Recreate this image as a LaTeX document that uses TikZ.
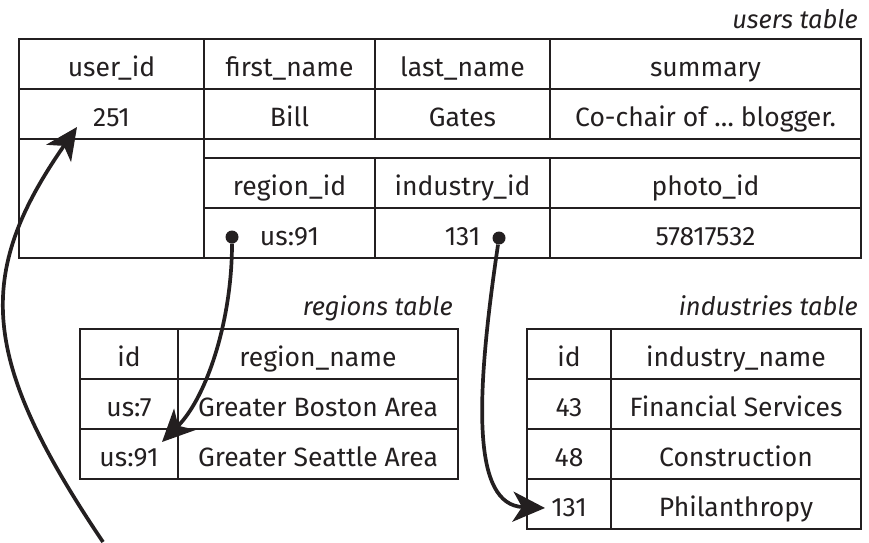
\documentclass[tikz,border=0pt]{standalone}
\usepackage{fontspec}
\setmainfont{Fira Sans}
\usepackage{tikz}
\usetikzlibrary{positioning,calc,arrows.meta}
\definecolor{ink}{RGB}{35,31,32}

\begin{document}
\begin{tikzpicture}[
    x=1pt, y=-1pt,
    node distance=0pt,
    cell/.style={draw=ink, line width=1.6pt, inner sep=0pt, outer sep=0pt, minimum height=50pt,
        text height=24pt, text depth=0pt, text=ink, font=\fontsize{26.5}{31}\selectfont},
    tablabel/.style={anchor=base east, inner sep=0pt, text=ink, font=\fontsize{25.5}{30}\selectfont\itshape},
    fkdot/.style={circle, fill=ink, inner sep=0pt, minimum size=13pt},
    fkarrow/.style={-{Stealth[length=32pt, width=30pt, inset=9pt]}, line width=3.7pt, draw=ink}
]
    \useasboundingbox (0,0) rectangle (869,542);

    % Users table
    \node[cell, minimum width=185pt, anchor=north west] (uid) at (19,39) {user\_id};
    \node[cell, minimum width=171pt, right=of uid] (fname) {first\_name};
    \node[cell, minimum width=175pt, right=of fname] (lname) {last\_name};
    \node[cell, minimum width=311pt, right=of lname] (summary) {summary};
    \node[cell, minimum width=185pt, below=of uid] (uidval) {251};
    \node[cell, minimum width=171pt, below=of fname] (fnameval) {Bill};
    \node[cell, minimum width=175pt, below=of lname] (lnameval) {Gates};
    \node[cell, minimum width=311pt, below=of summary] (summaryval) {Co-chair of … blogger.};
    \node[cell, minimum width=185pt, minimum height=119pt, below=of uidval] (uidrest) {};
    \node[cell, minimum width=657pt, minimum height=19pt, text height=0pt,
        below right=0pt and 0pt of fnameval.south west] (gap) {};
    \node[cell, minimum width=171pt, below right=0pt and 0pt of gap.south west] (regid) {region\_id};
    \node[cell, minimum width=175pt, right=of regid] (indid) {industry\_id};
    \node[cell, minimum width=311pt, right=of indid] (photoid) {photo\_id};
    \node[cell, minimum width=171pt, below=of regid] (regidval) {us:91};
    \node[cell, minimum width=175pt, below=of indid] (indidval) {131};
    \node[cell, minimum width=311pt, below=of photoid] (photoidval) {57817532};

    % Regions table
    \node[cell, minimum width=98pt, anchor=north west] (rid) at (80,329) {id};
    \node[cell, minimum width=280pt, right=of rid] (rname) {region\_name};
    \node[cell, minimum width=98pt, below=of rid] (r7) {us:7};
    \node[cell, minimum width=280pt, below=of rname] (r7name) {Greater Boston Area};
    \node[cell, minimum width=98pt, below=of r7] (r91) {us:91};
    \node[cell, minimum width=280pt, below=of r7name] (r91name) {Greater Seattle Area};

    % Industries table
    \node[cell, minimum width=84pt, anchor=north west] (iid) at (527,329) {id};
    \node[cell, minimum width=250pt, right=of iid] (iname) {industry\_name};
    \node[cell, minimum width=84pt, below=of iid] (i43) {43};
    \node[cell, minimum width=250pt, below=of iname] (i43name) {Financial Services};
    \node[cell, minimum width=84pt, below=of i43] (i48) {48};
    \node[cell, minimum width=250pt, below=of i43name] (i48name) {Construction};
    \node[cell, minimum width=84pt, below=of i48] (i131) {131};
    \node[cell, minimum width=250pt, below=of i48name] (i131name) {Philanthropy};

    % Table labels
    \node[tablabel] at ($(summary.north east)+(-3,-11)$) {users table};
    \node[tablabel] at ($(rname.north east)+(-5,-14)$) {regions table};
    \node[tablabel] at ($(iname.north east)+(-3,-14)$) {industries table};

    % Foreign keys
    \node[fkdot] (regdot) at ($(regidval.center)+(-57.5,4)$) {};
    \node[fkdot] (inddot) at ($(indidval.center)+(36.5,5)$) {};
    \coordinate (regtip) at ($(r91.north east)+(-16,13)$);
    \coordinate (indtip) at ($(i131.west)+(18,4)$);
    \coordinate (uidtip) at ($(uidval.center)+(-34.5,13)$);
    \coordinate (offpage) at (103,542);

    \draw[fkarrow] (regdot) .. controls +(0,83) and +(45,-45) .. (regtip);
    \draw[fkarrow] (inddot) .. controls +(-24,162) and +(-73,-3) .. (indtip);
    \draw[fkarrow] (offpage) .. controls +(-123,-183) and +(-103,148) .. (uidtip);
\end{tikzpicture}
\end{document}
